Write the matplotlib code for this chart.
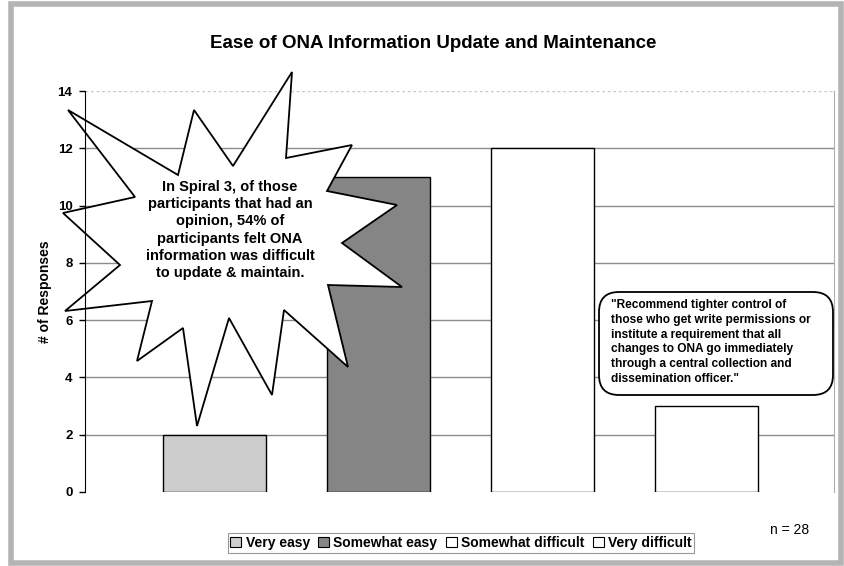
import matplotlib as mpl
import numpy as np
from matplotlib import pyplot as plt
from matplotlib.patches import Polygon, FancyBboxPatch, Rectangle, Patch
from matplotlib.transforms import Affine2D

mpl.rcParams['font.family'] = ['Liberation Sans', 'DejaVu Sans']

# data
categories = ['Very easy', 'Somewhat easy', 'Somewhat difficult', 'Very difficult']
responses = [2, 11, 12, 3]
bar_colors = ['#cdcdcd', '#858585', '#ffffff', '#ffffff']
yticks = [0, 2, 4, 6, 8, 10, 12, 14]

title = 'Ease of ONA Information Update and Maintenance'
burst_text = ('In Spiral 3, of those\nparticipants that had an\nopinion, 54% of\n'
              'participants felt ONA\ninformation was difficult\nto update & maintain.')
quote_text = ('"Recommend tighter control of\nthose who get write permissions or\n'
              'institute a requirement that all\nchanges to ONA go immediately\n'
              'through a central collection and\ndissemination officer."')

W, H = 844, 566
fig = plt.figure(figsize=(W / 100, H / 100), dpi=100)
# pixel transform, origin top-left
px = Affine2D().scale(1 / W, -1 / H).translate(0, 1) + fig.transFigure

ax = fig.add_axes([85 / W, 1 - 492 / H, (834 - 85) / W, (492 - 91) / H])
x = np.arange(len(categories))
bars = ax.bar(x, responses, width=0.628, color=bar_colors, edgecolor='black',
              linewidth=1.0, zorder=2)
ax.set_xlim(-0.787, 3.78)
ax.set_ylim(0, 14)
ax.set_yticks(yticks)
ax.set_yticklabels([str(t) for t in yticks], fontweight='bold', fontsize=9.5)
ax.set_xticks([])
ax.tick_params(axis='y', length=4, width=1, pad=5)
for t in yticks[1:-1]:
    ax.axhline(t, color='#8c8c8c', lw=1, zorder=1)
ax.axhline(14, color='#c8c8c8', lw=1, ls=(0, (2, 2)), zorder=1)
ax.spines['bottom'].set_visible(False)
ax.spines['top'].set_visible(False)
ax.spines['right'].set_color('#b0b0b0')
ax.spines['left'].set_zorder(5)
ax.set_ylabel('# of Responses', fontweight='bold', fontsize=10, labelpad=4)

# starburst callout (pixel coordinates)
burst = [(292, 72), (286, 158), (352, 145), (327, 191), (397, 205), (342, 243),
         (402, 287), (328, 285), (348, 367), (284, 310), (272, 395), (229, 318),
         (197, 426), (183, 328), (137, 361), (152, 301), (65, 311), (120, 265),
         (63, 213), (135, 197), (68, 110), (178, 175), (194, 110), (233, 166)]
ax.add_patch(Polygon(burst, closed=True, facecolor='white', edgecolor='black',
                     lw=1.3, transform=px, clip_on=False, zorder=3))
fig.text(230, 230, burst_text, transform=px, ha='center', va='center',
         multialignment='center', fontsize=10.5, fontweight='bold',
         linespacing=1.3, zorder=6)

# rounded quote box
ax.add_patch(FancyBboxPatch((599, 292), 234, 103,
                            boxstyle='round,pad=0,rounding_size=20',
                            facecolor='white', edgecolor='black', lw=1.3,
                            transform=px, clip_on=False, zorder=3))
fig.text(611, 342, quote_text, transform=px, ha='left', va='center',
         fontsize=8.6, fontweight='bold', linespacing=1.3, zorder=6)

fig.text(433, 44, title, transform=px, ha='center', va='center',
         fontsize=13.5, fontweight='bold')
fig.text(790, 530, 'n = 28', transform=px, ha='center', va='center', fontsize=10)

handles = [Patch(facecolor=c, edgecolor='black', lw=0.8) for c in bar_colors]
leg = fig.legend(handles, categories, loc='center', bbox_to_anchor=(461 / W, 1 - 543 / H),
                 ncol=4, frameon=True, fancybox=False,
                 prop={'weight': 'bold', 'size': 10}, handlelength=0.8, handleheight=0.8,
                 handletextpad=0.3, columnspacing=0.6, borderpad=0.2)
leg.get_frame().set_edgecolor('#808080')
leg.get_frame().set_linewidth(0.8)

# outer frame
fig.patches.append(Rectangle((11, 4), 830, 559, fill=False, edgecolor='#b4b4b4',
                             lw=4, transform=px, figure=fig))

fig.savefig('out.png', dpi=100)
